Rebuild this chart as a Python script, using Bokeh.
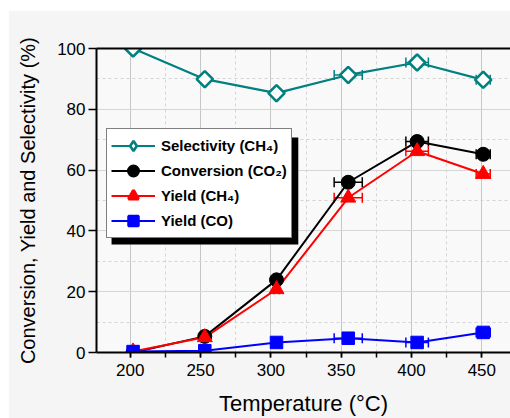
import numpy as np
from bokeh.plotting import figure
from bokeh.models import (ColumnDataSource, Whisker, TeeHead, Legend, LegendItem,
                          LinearAxis, FixedTicker, SingleIntervalTicker, BoxAnnotation, Range1d)
from bokeh.embed import file_html
from bokeh.resources import INLINE

# ---- data ----
temperature = [202, 253, 304, 355, 404, 451]
temp_err = [0, 2, 2, 10, 8, 5]
selectivity_ch4 = [100.0, 89.9, 85.3, 91.3, 95.4, 89.7]
conversion_co2 = [0.0, 5.3, 23.9, 56.0, 69.4, 65.2]
yield_ch4 = [0.3, 5.0, 20.8, 50.9, 66.2, 58.7]
yield_co = [0.3, 0.6, 3.3, 4.7, 3.3, 6.6]

labels = ["Selectivity (CH\u2084)", "Conversion (CO\u2082)", "Yield (CH\u2084)", "Yield (CO)"]

FONT = "Liberation Sans"

src = ColumnDataSource(dict(
    x=temperature,
    lo=[t - e for t, e in zip(temperature, temp_err)],
    hi=[t + e for t, e in zip(temperature, temp_err)],
    sel=selectivity_ch4, conv=conversion_co2, ych4=yield_ch4, yco=yield_co,
))

p = figure(width=502, height=408, x_range=Range1d(176, 470.4), y_range=Range1d(0, 100),
           output_backend="svg", toolbar_location=None,
           min_border_left=88, min_border_right=0, min_border_top=38, min_border_bottom=63)
p.margin = (10, 0, 0, 8)

p.background_fill_color = "#f9f9f9"
p.border_fill_color = "#f5f5f5"
p.outline_line_color = None

# axes
p.xaxis.ticker = SingleIntervalTicker(interval=50, num_minor_ticks=2)
p.yaxis.ticker = SingleIntervalTicker(interval=20, num_minor_ticks=2)
for ax in (p.xaxis[0], p.yaxis[0]):
    ax.axis_line_width = 2
    ax.axis_line_color = "black"
    ax.major_tick_line_width = 1.5
    ax.minor_tick_line_width = 1.5
    ax.major_tick_in = 0
    ax.minor_tick_in = 0
    ax.major_label_text_font = FONT
    ax.major_label_text_font_size = "17px"
    ax.major_label_text_color = "black"
    ax.axis_label_text_font = FONT
    ax.axis_label_text_font_style = "normal"
    ax.axis_label_text_color = "black"

p.xaxis.major_tick_out = 5
p.xaxis.minor_tick_out = 5
p.xaxis.major_label_standoff = 6
p.xaxis.axis_label = "Temperature (\u00b0C)"
p.xaxis.axis_label_text_font_size = "22px"
p.xaxis.axis_label_standoff = 12

p.yaxis.major_tick_out = 8
p.yaxis.minor_tick_line_color = None
p.yaxis.major_label_standoff = 3
p.yaxis.axis_label = "Conversion, Yield and Selectivity (%)"
p.yaxis.axis_label_text_font_size = "20px"
p.yaxis.axis_label_standoff = 15

top = LinearAxis(ticker=FixedTicker(ticks=[]), axis_line_width=2, axis_line_color="black",
                 major_tick_line_color=None, minor_tick_line_color=None,
                 major_label_text_color=None)
p.add_layout(top, "above")

# grid
p.xgrid.grid_line_color = "#c6c6c6"
p.ygrid.grid_line_color = "#d6d6d6"
p.xgrid.minor_grid_line_color = "#d4d4d4"
p.ygrid.minor_grid_line_color = "#d4d4d4"
p.xgrid.minor_grid_line_dash = "3 3"
p.ygrid.minor_grid_line_dash = "3 3"

TEAL, BLACK, RED, BLUE = "#008080", "black", "#ff0000", "#0000ff"

def whisker(col, color):
    w = Whisker(source=src, base=col, lower="lo", upper="hi", dimension="width",
                line_color=color, line_width=1.5, level="underlay",
                upper_head=TeeHead(size=10, line_color=color, line_width=1.5),
                lower_head=TeeHead(size=10, line_color=color, line_width=1.5))
    p.add_layout(w)

whisker("sel", TEAL)
whisker("conv", BLACK)
whisker("ych4", RED)
whisker("yco", BLUE)

# legend-only markers (size 0 in the plot, hidden below the real markers;
# the legend draws them at its own size, thick outlines enlarge them)
l1 = p.line("x", "sel", source=src, line_color=TEAL, line_width=2.2)
d1 = p.scatter("x", "sel", source=src, marker="diamond", size=0,
               line_color=TEAL, line_width=2.6, fill_color="white")
l2 = p.line("x", "conv", source=src, line_color=BLACK, line_width=2)
d2 = p.scatter("x", "conv", source=src, marker="circle", size=0,
               line_color=BLACK, line_width=3, fill_color=BLACK)
l3 = p.line("x", "ych4", source=src, line_color=RED, line_width=2)
d3 = p.scatter("x", "ych4", source=src, marker="triangle", size=0,
               line_color=RED, line_width=3, fill_color=RED)
l4 = p.line("x", "yco", source=src, line_color=BLUE, line_width=2)
d4 = p.scatter("x", "yco", source=src, marker="square", size=0,
               line_color=BLUE, line_width=2.5, fill_color=BLUE)

m1 = p.scatter("x", "sel", source=src, marker="square", angle=np.pi / 4, size=11.5,
               line_color=TEAL, line_width=2.6, fill_color="white")
m2 = p.scatter("x", "conv", source=src, marker="circle", size=14,
               line_color=BLACK, fill_color=BLACK)
m3 = p.scatter("x", "ych4", source=src, marker="triangle", size=15,
               line_color=RED, fill_color=RED)
m4 = p.scatter("x", "yco", source=src, marker="square", size=12.5,
               line_color=BLUE, fill_color=BLUE)

# legend shadow (decoration), in data units behind the legend box
shadow = BoxAnnotation(left=186.7, right=319.5, bottom=35.5, top=70.7,
                       fill_color="black", fill_alpha=1.0, line_color=None)
p.add_layout(shadow)

legend = Legend(items=[LegendItem(label=labels[0], renderers=[l1, d1]),
                       LegendItem(label=labels[1], renderers=[l2, d2]),
                       LegendItem(label=labels[2], renderers=[l3, d3]),
                       LegendItem(label=labels[3], renderers=[l4, d4])],
                location=(10, 114), orientation="vertical",
                label_text_font=FONT, label_text_font_size="15px", label_text_font_style="bold",
                label_text_color="black", glyph_width=44, glyph_height=25,
                label_height=25, spacing=0, padding=4, margin=0, label_standoff=6,
                border_line_color="black", border_line_width=1,
                background_fill_color="white", background_fill_alpha=1.0)
p.add_layout(legend, "center")

open("out.html", "w").write(file_html(p, INLINE))
